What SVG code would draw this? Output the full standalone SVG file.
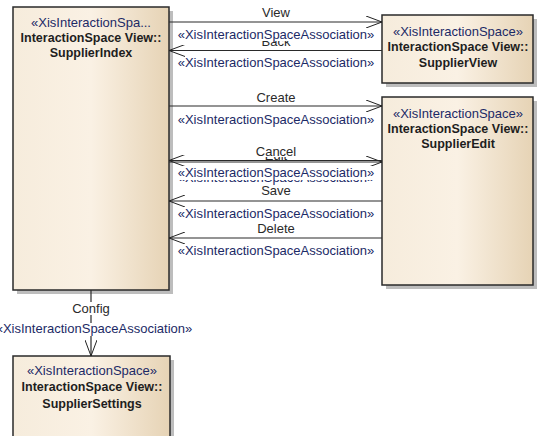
<svg xmlns="http://www.w3.org/2000/svg" width="537" height="436" viewBox="0 0 537 436">
<defs>
<linearGradient id="fill" x1="0" y1="0" x2="1" y2="0">
<stop offset="0" stop-color="#f6ecdc"/>
<stop offset="0.5" stop-color="#faf1e4"/>
<stop offset="1" stop-color="#e6d3b5"/>
</linearGradient>
<marker id="open" viewBox="0 0 16 12" refX="16" refY="6" markerWidth="16" markerHeight="12" markerUnits="userSpaceOnUse" orient="auto">
<path d="M0,0 L16,6 L0,12" fill="none" stroke="#222" stroke-width="1"/>
</marker>
</defs>
<style>
.box{fill:url(#fill);stroke:#2a2a2a;stroke-width:1.5}
.shadow{fill:#bdbdbd}
.st{font-family:"Liberation Sans",Arial,sans-serif;font-size:13px;fill:#1c2a66;text-anchor:middle}
.nm{font-family:"Liberation Sans",Arial,sans-serif;font-size:12.5px;font-weight:bold;fill:#1e1e1e;text-anchor:middle}
.lbl{font-family:"Liberation Sans",Arial,sans-serif;font-size:13px;fill:#2a2a2a;text-anchor:middle}
.cst{font-family:"Liberation Sans",Arial,sans-serif;font-size:13px;fill:#1c2a66;text-anchor:middle}
.ln{stroke:#2a2a2a;stroke-width:1.2;fill:none}
.bg{fill:#ffffff}
</style>
<rect width="537" height="436" fill="#ffffff"/>

<g id="SupplierIndex">
<rect class="shadow" x="17" y="11" width="156" height="283"/>
<rect class="box" x="13" y="7" width="156" height="283"/>
<text class="st" x="91" y="27">«XisInteractionSpa...</text>
<text class="nm" x="91" y="42">InteractionSpace View::</text>
<text class="nm" x="91" y="57">SupplierIndex</text>
</g>

<g id="SupplierView">
<rect class="shadow" x="386" y="19" width="151" height="68"/>
<rect class="box" x="382" y="15" width="151" height="68"/>
<text class="st" x="458" y="36">«XisInteractionSpace»</text>
<text class="nm" x="458" y="51">InteractionSpace View::</text>
<text class="nm" x="458" y="67">SupplierView</text>
</g>

<g id="SupplierEdit">
<rect class="shadow" x="386" y="101" width="151" height="188"/>
<rect class="box" x="382" y="97" width="151" height="188"/>
<text class="st" x="458" y="118">«XisInteractionSpace»</text>
<text class="nm" x="458" y="133">InteractionSpace View::</text>
<text class="nm" x="458" y="148">SupplierEdit</text>
</g>

<g id="SupplierSettings">
<rect class="shadow" x="17" y="360" width="157" height="90"/>
<rect class="box" x="13" y="356" width="157" height="90"/>
<text class="st" x="92" y="375">«XisInteractionSpace»</text>
<text class="nm" x="92" y="391">InteractionSpace View::</text>
<text class="nm" x="92" y="408">SupplierSettings</text>
</g>

<g id="connectors">
<!-- View -->
<line class="ln" x1="169" y1="22" x2="382" y2="22" marker-end="url(#open)"/>
<text class="lbl" x="276" y="17">View</text>
<!-- Back -->
<line class="ln" x1="382" y1="50.5" x2="169" y2="50.5" marker-end="url(#open)"/>
<text class="lbl" x="276" y="46">Back</text>
<rect class="bg" x="176" y="28" width="200" height="13"/>
<text class="cst" x="276" y="39">«XisInteractionSpaceAssociation»</text>
<text class="cst" x="276" y="67">«XisInteractionSpaceAssociation»</text>
<!-- Create -->
<line class="ln" x1="169" y1="106" x2="382" y2="106" marker-end="url(#open)"/>
<text class="lbl" x="276" y="102">Create</text>
<text class="cst" x="276" y="124">«XisInteractionSpaceAssociation»</text>
<!-- Edit -->
<line class="ln" x1="169" y1="162" x2="382" y2="162" marker-end="url(#open)"/>
<text class="lbl" x="276" y="160">Edit</text>
<text class="cst" x="276" y="182">«XisInteractionSpaceAssociation»</text>
<!-- Cancel -->
<rect class="bg" x="240" y="145" width="72" height="12"/>
<text class="lbl" x="276" y="156">Cancel</text>
<line class="ln" x1="382" y1="160.5" x2="169" y2="160.5" marker-end="url(#open)"/>
<rect class="bg" x="176" y="166" width="200" height="14"/>
<text class="cst" x="276" y="177">«XisInteractionSpaceAssociation»</text>
<!-- Save -->
<line class="ln" x1="382" y1="201" x2="169" y2="201" marker-end="url(#open)"/>
<text class="lbl" x="276" y="195">Save</text>
<text class="cst" x="276" y="218">«XisInteractionSpaceAssociation»</text>
<!-- Delete -->
<line class="ln" x1="382" y1="238" x2="169" y2="238" marker-end="url(#open)"/>
<text class="lbl" x="276" y="233">Delete</text>
<text class="cst" x="276" y="255">«XisInteractionSpaceAssociation»</text>
<!-- Config -->
<line class="ln" x1="91" y1="290" x2="91" y2="356" marker-end="url(#open)"/>
<rect class="bg" x="70" y="302" width="42" height="13"/>
<text class="lbl" x="91" y="313">Config</text>
<rect class="bg" x="-10" y="323" width="202" height="13"/>
<text class="cst" x="94" y="333">«XisInteractionSpaceAssociation»</text>
</g>
</svg>
